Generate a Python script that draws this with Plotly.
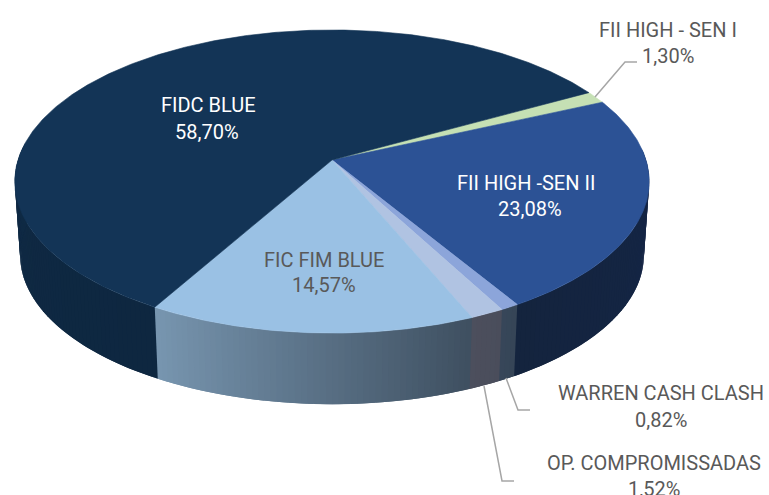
import numpy as np
import plotly.graph_objects as go

# Data: clockwise from the first slice
categories = ["FII HIGH - SEN I", "FII HIGH -SEN II", "WARREN CASH CLASH",
              "OP. COMPROMISSADAS", "FIC FIM BLUE", "FIDC BLUE"]
values = [1.30, 23.08, 0.82, 1.52, 14.57, 58.70]
value_labels = ["1,30%", "23,08%", "0,82%", "1,52%", "14,57%", "58,70%"]

# Styles
top_colors = ["#C5E0B4", "#2C5295", "#8CA5DA", "#B0C3E2", "#9AC1E4", "#133456"]
side_from = ["#90A090", "#14243E", "#37465A", "#4C4F5D", "#7896B0", "#12304E"]
side_to = ["#90A090", "#15264A", "#364556", "#4A4D5B", "#3E4F60", "#0E2740"]
text_colors = ["#595959", "#FFFFFF", "#595959", "#595959", "#595959", "#FFFFFF"]
label_xy = [(668, 30), (526, 183), (661, 393), (654, 463), (324, 260), (208, 105)]
value_xy = [(668, 56), (530, 209), (661, 420), (654, 489), (324, 285), (207, 132)]
leaders = {0: [(595, 97), (625, 62), (637, 62)],
           2: [(506, 378), (518, 410), (530, 410)],
           3: [(484, 386), (502, 481), (514, 481)]}

START = 61.0          # degrees clockwise from the back of the pie
CX = 332
TOP = dict(cy=160, a=148.5, b=314.0)
BOT = dict(cy=234, a=146.0, b=308.7)
K = 0.142             # perspective strength


def project(theta_deg, ring):
    t = np.radians(theta_deg)
    u, v = np.sin(t), np.cos(t)
    w = 1 + K * v
    return CX + ring["b"] * u / w, ring["cy"] - ring["a"] * v / w


def hexmix(c1, c2, f):
    a = [int(c1[i:i + 2], 16) for i in (1, 3, 5)]
    b = [int(c2[i:i + 2], 16) for i in (1, 3, 5)]
    return "rgb(%d,%d,%d)" % tuple(round(x + (y - x) * f) for x, y in zip(a, b))


def poly(xs, ys, color, width=0.6):
    return go.Scatter(x=list(xs), y=list(ys), mode="lines", fill="toself",
                      fillcolor=color, line=dict(color=color, width=width),
                      hoverinfo="skip", showlegend=False)


total = sum(values)
spans = []
a0 = START
for val in values:
    a1 = a0 + val / total * 360
    spans.append((a0, a1))
    a0 = a1

fig = go.Figure()

# Side wall: fine steps, each one overlapping the next so no seams show
for i, (a0, a1) in enumerate(spans):
    n = max(2, int(np.ceil(a1 - a0)))
    edges = np.linspace(a0, a1, n + 1)
    for j in range(n):
        lo, hi = edges[j], edges[j + 1]
        mid = ((lo + hi) / 2) % 360
        if not 85 < mid < 275:
            continue
        f = (j + 0.5) / n
        col = hexmix(side_to[i], side_from[i], f)
        th = np.array([lo, (lo + hi) / 2, hi, hi + 1.0])
        x1, y1 = project(th, TOP)
        x2, y2 = project(th[::-1], BOT)
        fig.add_trace(poly(np.r_[x1, x2], np.r_[y1, y2], col, width=0))

# Top face
for i, (a0, a1) in enumerate(spans):
    th = np.linspace(a0, a1, max(6, int(a1 - a0) * 2))
    x, y = project(th, TOP)
    fig.add_trace(poly(np.r_[CX, x, CX], np.r_[TOP["cy"], y, TOP["cy"]], top_colors[i]))

# Leader lines
for i, pts in leaders.items():
    fig.add_trace(go.Scatter(x=[p[0] for p in pts], y=[p[1] for p in pts], mode="lines",
                             line=dict(color="#A6A6A6", width=1.5),
                             hoverinfo="skip", showlegend=False))

# Text
for i, name in enumerate(categories):
    font = dict(family="Roboto", size=20, weight=400, color=text_colors[i])
    fig.add_annotation(x=label_xy[i][0], y=label_xy[i][1], text=name, showarrow=False,
                       xanchor="center", yanchor="middle", font=font)
    fig.add_annotation(x=value_xy[i][0], y=value_xy[i][1], text=value_labels[i], showarrow=False,
                       xanchor="center", yanchor="middle", font=font)

fig.update_layout(width=769, height=495, margin=dict(l=0, r=0, t=0, b=0),
                  paper_bgcolor="white", plot_bgcolor="white",
                  xaxis=dict(range=[0, 769], visible=False, fixedrange=True),
                  yaxis=dict(range=[495, 0], visible=False, fixedrange=True))
fig.write_html("out.html", config={"displayModeBar": False},
               post_script="document.body.style.margin='0';")
